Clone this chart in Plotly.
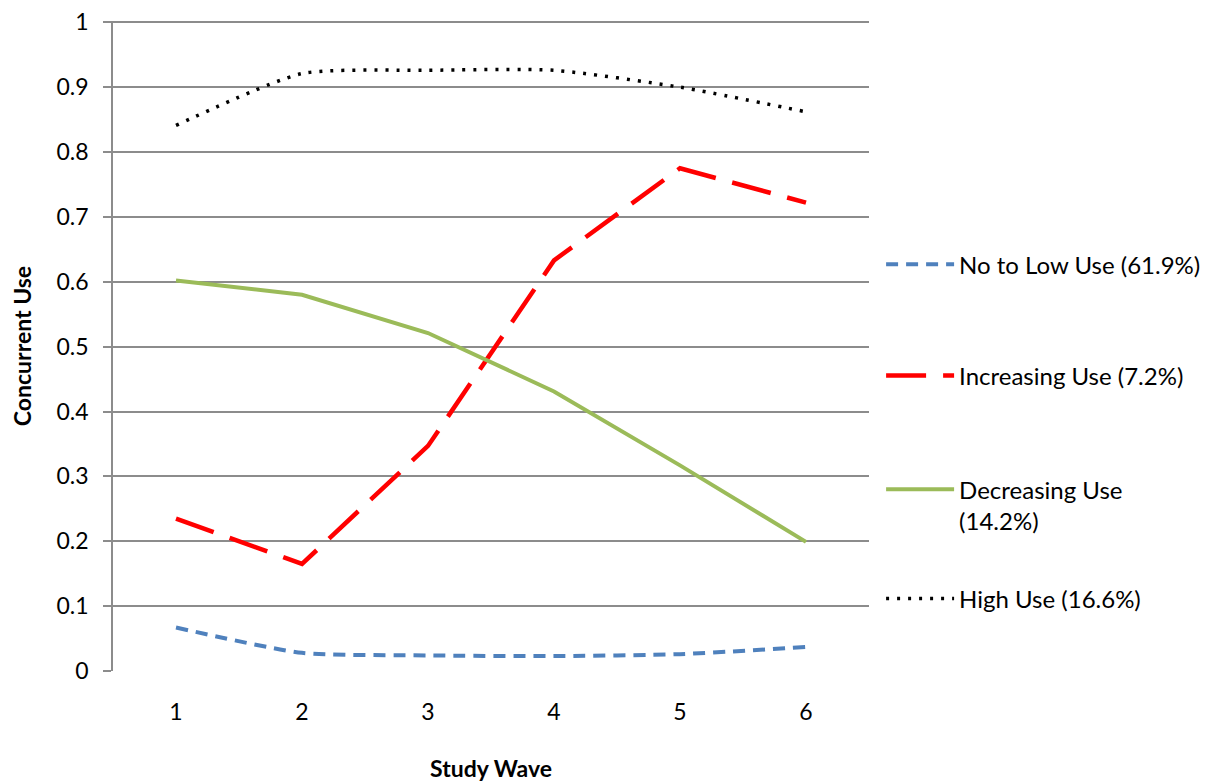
import plotly.graph_objects as go

waves = ["1", "2", "3", "4", "5", "6"]
no_low = [0.067, 0.028, 0.024, 0.023, 0.026, 0.037]
increasing = [0.235, 0.165, 0.347, 0.633, 0.775, 0.722]
decreasing = [0.602, 0.580, 0.521, 0.431, 0.317, 0.199]
high = [0.841, 0.921, 0.926, 0.926, 0.900, 0.862]
y_ticks = [0, 0.1, 0.2, 0.3, 0.4, 0.5, 0.6, 0.7, 0.8, 0.9, 1]

names = ["No to Low Use (61.9%)", "Increasing Use (7.2%)",
         "Decreasing Use<br>(14.2%)", "High Use (16.6%)"]

FONT = "Lato"
fig = go.Figure()
fig.add_trace(go.Scatter(x=waves, y=no_low, name=names[0], mode="lines", legend="legend",
                         line=dict(color="#4F81BD", width=4, dash="12px,8px", shape="spline", smoothing=0.6)))
fig.add_trace(go.Scatter(x=waves, y=increasing, name=names[1], mode="lines", legend="legend2",
                         line=dict(color="#FF0000", width=4.5, dash="40px,17px")))
fig.add_trace(go.Scatter(x=waves, y=decreasing, name=names[2], mode="lines", legend="legend3",
                         line=dict(color="#9BBB59", width=4)))
fig.add_trace(go.Scatter(x=waves, y=high, name=names[3], mode="lines", legend="legend4",
                         line=dict(color="#000000", width=3.5, dash="3px,8px", shape="spline", smoothing=0.6)))

def leg(yc, valign="middle"):
    return dict(x=1.016, xanchor="left", y=yc, yanchor="middle",
                font=dict(size=24), itemwidth=68, valign=valign,
                bgcolor="rgba(0,0,0,0)")

fig.update_layout(
    width=1218, height=784,
    margin=dict(l=105, r=357, t=13, b=121),
    paper_bgcolor="white", plot_bgcolor="white",
    font=dict(family=FONT, size=23, color="#000000"),
    showlegend=True,
    legend=leg(0.625),
    legend2=leg(0.454),
    legend3=leg(0.255, "top"),
    legend4=leg(0.111),
    xaxis=dict(type="category", range=[-0.5, 5.5],
               title=dict(text="<b>Study Wave</b>", font=dict(size=23), standoff=36),
               showgrid=False, showline=False, ticks="", zeroline=False,
               tickfont=dict(size=23), ticklabelstandoff=25, automargin=False),
    yaxis=dict(title=dict(text="<b>Concurrent Use</b>", font=dict(size=23), standoff=32),
               range=[0, 1.002], tickmode="array", tickvals=y_ticks,
               ticktext=[f"{v:g}" for v in y_ticks], ticklabeloverflow="allow",
               showgrid=True, gridcolor="#8C8C8C", gridwidth=1.5,
               showline=True, linecolor="#8C8C8C", linewidth=1.5,
               ticks="outside", ticklen=8, tickcolor="#8C8C8C", tickwidth=1.5,
               zeroline=False, tickfont=dict(size=23), ticklabelstandoff=10,
               automargin=False),
)

fig.write_html("out.html")
